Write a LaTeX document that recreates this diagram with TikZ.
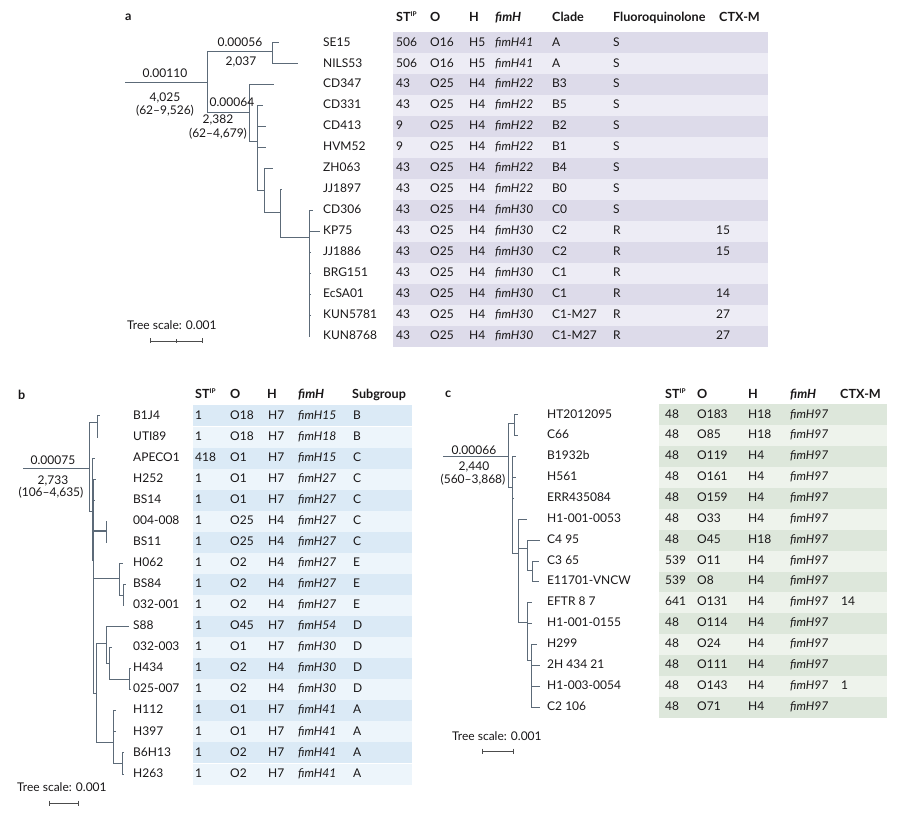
\nonstopmode
\documentclass[tikz,border=0pt]{standalone}
\usepackage{fontspec}
\setmainfont{Lato}
\definecolor{treeline}{RGB}{92,106,120}
\definecolor{txt}{RGB}{25,23,24}
\definecolor{bandAa}{RGB}{221,219,234}
\definecolor{bandAb}{RGB}{237,236,245}
\definecolor{bandBa}{RGB}{219,234,246}
\definecolor{bandBb}{RGB}{237,245,251}
\definecolor{bandCa}{RGB}{221,231,219}
\definecolor{bandCb}{RGB}{238,243,236}

\begin{document}
\begin{tikzpicture}[x=1pt,y=-1pt,font=\fontsize{12}{14}\selectfont,text=txt]

\tikzstyle{cell}=[anchor=west,inner sep=0pt,text height=8.7pt,text depth=2.5pt]
\tikzstyle{head}=[cell,font=\fontsize{12.6}{14}\selectfont\bfseries]
\tikzstyle{num}=[inner sep=0pt,text height=8.7pt,text depth=2.5pt]
\tikzstyle{br}=[draw=treeline,line width=1pt]
\tikzstyle{scalebar}=[draw=black!70,line width=0.9pt]

\useasboundingbox (0,0) rectangle (906,818);

% ---------------- panel a ----------------
\foreach \r in {0,2,...,14} \fill[bandAa] (393,{32.5+20.93*\r}) rectangle (768,{53.5+20.93*\r});
\foreach \r in {1,3,...,13} \fill[bandAb] (393,{32.5+20.93*\r}) rectangle (768,{53.5+20.93*\r});

\node[head] (alabel) at (125,17) {a};
\node[head] (a-h-st) at (396,18) {ST\textsuperscript{\fontsize{6.5}{7}\selectfont IP}};
\node[head] (a-h-o) at (430,18) {O};
\node[head] (a-h-h) at (469,18) {H};
\node[head] (a-h-f) at (495,18) {\textit{fimH}};
\node[head] (a-h-cl) at (552,18) {Clade};
\node[head] (a-h-fq) at (613,18) {Fluoroquinolone};
\node[head] (a-h-ctx) at (719,18) {CTX-M};

\foreach \r/\tipx/\strain/\stval/\oval/\hval/\fval/\clade/\fqval/\ctxval in {1/279/SE15/506/O16/H5/41/A/S/,2/298/NILS53/506/O16/H5/41/A/S/,3/274/CD347/43/O25/H4/22/B3/S/,4/263/CD331/43/O25/H4/22/B5/S/,5/266/CD413/9/O25/H4/22/B2/S/,6/266/HVM52/9/O25/H4/22/B1/S/,7/273/ZH063/43/O25/H4/22/B4/S/,8/282/JJ1897/43/O25/H4/22/B0/S/,9/313/CD306/43/O25/H4/30/C0/S/,10/320/KP75/43/O25/H4/30/C2/R/15,11/311/JJ1886/43/O25/H4/30/C2/R/15,12/311/BRG151/43/O25/H4/30/C1/R/,13/311/EcSA01/43/O25/H4/30/C1/R/14,14/311/KUN5781/43/O25/H4/30/C1-M27/R/27,15/310/KUN8768/43/O25/H4/30/C1-M27/R/27}{
  \pgfmathsetmacro{\yy}{43+20.93*(\r-1)}
  \coordinate (a-tip-\r) at (\tipx,\yy);
  \node[cell] (a-\r) at (323,\yy) {\strain};
  \node[cell] (a-\r-st) at (396,\yy) {\stval};
  \node[cell] (a-\r-o) at (430,\yy) {\oval};
  \node[cell] (a-\r-h) at (469,\yy) {\hval};
  \node[cell] (a-\r-f) at (495,\yy) {\textit{fimH\fval}};
  \node[cell] (a-\r-cl) at (552,\yy) {\clade};
  \node[cell] (a-\r-fq) at (613,\yy) {\fqval};
  \node[cell] (a-\r-ctx) at (716,\yy) {\ctxval};
}

% tree a
\coordinate (a-root) at (125,82.7);
\coordinate (na0) at (207,82.7);
\coordinate (na1) at (272,52);
\coordinate (na2) at (249,113);
\coordinate (na3) at (257,142);
\coordinate (na4) at (264,191);
\coordinate (na5) at (280,213);
\coordinate (na6) at (309,238);
\draw[br] (a-root) -- (na0);
\draw[br] (na0) |- (na1) (na0) |- (na2);
\draw[br] (na1) |- (a-tip-1) (na1) |- (a-tip-2);
\draw[br] (na2) |- (a-tip-3) (na2) |- (na3);
\draw[br] (na3) |- (a-tip-4) (na3) |- (a-tip-5) (na3) |- (a-tip-6) (na3) |- (na4);
\draw[br] (na4) |- (a-tip-7) (na4) |- (na5);
\draw[br] (na5) |- (a-tip-8) (na5) |- (na6);
\foreach \k in {9,...,15} \draw[br] (na6) |- (a-tip-\k);

\node[num] (a-l1) at (165,74) {0.00110};
\node[num] (a-l2) at (165,98) {4,025};
\node[num] (a-l3) at (165,111) {(62--9,526)};
\node[num] (a-l4) at (240,43) {0.00056};
\node[num] (a-l5) at (241,62) {2,037};
\node[num] (a-l6) at (232,103) {0.00064};
\node[num] (a-l7) at (218,120) {2,382};
\node[num] (a-l8) at (218,134) {(62--4,679)};

\node[cell] (a-scale) at (127,326) {Tree scale: 0.001};
\draw[scalebar] (150,341) -- (202,341);
\draw[scalebar] (150,338.5) -- (150,343.5) (176,339) -- (176,343) (202,338.5) -- (202,343.5);

% ---------------- panel b ----------------
\foreach \r in {0,2,...,16} \fill[bandBa] (193,{405.5+21.06*\r}) rectangle (412,{426.5+21.06*\r});
\foreach \r in {1,3,...,17} \fill[bandBb] (193,{405.5+21.06*\r}) rectangle (412,{426.5+21.06*\r});

\node[head] (blabel) at (18,396) {b};
\node[head] (b-h-st) at (195,395) {ST\textsuperscript{\fontsize{6.5}{7}\selectfont IP}};
\node[head] (b-h-o) at (230,395) {O};
\node[head] (b-h-h) at (267,395) {H};
\node[head] (b-h-f) at (298,395) {\textit{fimH}};
\node[head] (b-h-sg) at (352,395) {Subgroup};

\foreach \r/\tipx/\strain/\stval/\oval/\hval/\fval/\subgr in {1/100/B1J4/1/O18/H7/15/B,2/98/UTI89/1/O18/H7/18/B,3/95/APECO1/418/O1/H7/15/C,4/96/H252/1/O1/H7/27/C,5/95/BS14/1/O1/H7/27/C,6/107/004-008/1/O25/H4/27/C,7/107/BS11/1/O25/H4/27/C,8/123/H062/1/O2/H4/27/E,9/126/BS84/1/O2/H4/27/E,10/124/032-001/1/O2/H4/27/E,11/129/S88/1/O45/H7/54/D,12/112/032-003/1/O1/H7/30/D,13/131/H434/1/O2/H4/30/D,14/131/025-007/1/O2/H4/30/D,15/116/H112/1/O1/H7/41/A,16/116/H397/1/O1/H7/41/A,17/124/B6H13/1/O2/H7/41/A,18/124/H263/1/O2/H7/41/A}{
  \pgfmathsetmacro{\yy}{416+21.06*(\r-1)}
  \coordinate (b-tip-\r) at (\tipx,\yy);
  \node[cell] (b-\r) at (133,\yy) {\strain};
  \node[cell] (b-\r-st) at (195,\yy) {\stval};
  \node[cell] (b-\r-o) at (230,\yy) {\oval};
  \node[cell] (b-\r-h) at (268,\yy) {\hval};
  \node[cell] (b-\r-f) at (298,\yy) {\textit{fimH\fval}};
  \node[cell] (b-\r-sg) at (353,\yy) {\subgr};
}

% tree b
\coordinate (b-root) at (23,469);
\coordinate (nb0) at (89,469);
\coordinate (nb1) at (97,423);
\coordinate (nb2) at (92,512);
\coordinate (nb3) at (93,560);
\coordinate (nb4) at (106,531);
\coordinate (nb6) at (119,578);
\coordinate (nb13) at (123,595);
\coordinate (nb7) at (96,693);
\coordinate (nb8) at (106,643);
\coordinate (nb10) at (109,663);
\coordinate (nb11) at (129,679);
\coordinate (nb9) at (113,742);
\coordinate (nb12) at (122,763);
\draw[br] (b-root) -- (nb0);
\draw[br] (nb0) |- (nb1) (nb0) |- (nb2);
\draw[br] (nb1) |- (b-tip-1) (nb1) |- (b-tip-2);
\draw[br] (nb2) |- (b-tip-3) (nb2) |- (nb3);
\draw[br] (nb3) |- (b-tip-4) (nb3) |- (b-tip-5) (nb3) |- (nb4) (nb3) |- (nb6) (nb3) |- (nb7);
\draw[br] (nb4) |- (b-tip-6) (nb4) |- (b-tip-7);
\draw[br] (nb6) |- (b-tip-8) (nb6) |- (nb13);
\draw[br] (nb13) |- (b-tip-9) (nb13) |- (b-tip-10);
\draw[br] (nb7) |- (nb8) (nb7) |- (nb9);
\draw[br] (nb8) |- (b-tip-11) (nb8) |- (nb10);
\draw[br] (nb10) |- (b-tip-12) (nb10) |- (nb11);
\draw[br] (nb11) |- (b-tip-13) (nb11) |- (b-tip-14);
\draw[br] (nb9) |- (b-tip-15) (nb9) |- (b-tip-16) (nb9) |- (nb12);
\draw[br] (nb12) |- (b-tip-17) (nb12) |- (b-tip-18);

\node[num] (b-l1) at (53,461) {0.00075};
\node[num] (b-l2) at (53,481) {2,733};
\node[num] (b-l3) at (51,493) {(106--4,635)};

\node[cell] (b-scale) at (17,788) {Tree scale: 0.001};
\draw[scalebar] (49,803) -- (78,803);
\draw[scalebar] (49,800.5) -- (49,805.5) (78,800.5) -- (78,805.5);

% ---------------- panel c ----------------
\foreach \r in {0,2,...,14} \fill[bandCa] (659,{404.5+20.86*\r}) rectangle (887,{425.5+20.86*\r});
\foreach \r in {1,3,...,13} \fill[bandCb] (659,{404.5+20.86*\r}) rectangle (887,{425.5+20.86*\r});

\node[head] (clabel) at (445,394) {c};
\node[head] (c-h-st) at (665,395) {ST\textsuperscript{\fontsize{6.5}{7}\selectfont IP}};
\node[head] (c-h-o) at (697,395) {O};
\node[head] (c-h-h) at (748,395) {H};
\node[head] (c-h-f) at (790,395) {\textit{fimH}};
\node[head] (c-h-ctx) at (840,395) {CTX-M};

\foreach \r/\tipx/\strain/\stval/\oval/\hval/\ctxval in {1/518/HT2012095/48/O183/H18/,2/518/C66/48/O85/H18/,3/516/B1932b/48/O119/H4/,4/516/H561/48/O161/H4/,5/514/ERR435084/48/O159/H4/,6/527/H1-001-0053/48/O33/H4/,7/540/C4 95/48/O45/H18/,8/539/C3 65/539/O11/H4/,9/539/E11701-VNCW/539/O8/H4/,10/532/EFTR 8 7/641/O131/H4/14,11/532/H1-001-0155/48/O114/H4/,12/537/H299/48/O24/H4/,13/540/2H 434 21/48/O111/H4/,14/540/H1-003-0054/48/O143/H4/1,15/540/C2 106/48/O71/H4/}{
  \pgfmathsetmacro{\yy}{415+20.86*(\r-1)}
  \coordinate (c-tip-\r) at (\tipx,\yy);
  \node[cell] (c-\r) at (547,\yy) {\strain};
  \node[cell] (c-\r-st) at (665,\yy) {\stval};
  \node[cell] (c-\r-o) at (697,\yy) {\oval};
  \node[cell] (c-\r-h) at (748,\yy) {\hval};
  \node[cell] (c-\r-f) at (790,\yy) {\textit{fimH97}};
  \node[cell] (c-\r-ctx) at (841,\yy) {\ctxval};
}

% tree c
\coordinate (c-root) at (443,457);
\coordinate (nc0) at (508,457);
\coordinate (nc1) at (514,424);
\coordinate (nc2) at (512,488);
\coordinate (nc3) at (518,553);
\coordinate (nc4) at (527,548);
\coordinate (nc5) at (532,570);
\coordinate (nc6) at (527,622);
\coordinate (nc7) at (531,660);
\draw[br] (c-root) -- (nc0);
\draw[br] (nc0) |- (nc1) (nc0) |- (nc2);
\draw[br] (nc1) |- (c-tip-1) (nc1) |- (c-tip-2);
\draw[br] (nc2) |- (c-tip-3) (nc2) |- (c-tip-4) (nc2) |- (c-tip-5) (nc2) |- (nc3);
\draw[br] (nc3) |- (c-tip-6) (nc3) |- (nc4) (nc3) |- (nc6);
\draw[br] (nc4) |- (c-tip-7) (nc4) |- (nc5);
\draw[br] (nc5) |- (c-tip-8) (nc5) |- (c-tip-9);
\draw[br] (nc6) |- (c-tip-10) (nc6) |- (c-tip-11) (nc6) |- (nc7);
\foreach \k in {12,...,15} \draw[br] (nc7) |- (c-tip-\k);

\node[num] (c-l1) at (474,451) {0.00066};
\node[num] (c-l2) at (474,467) {2,440};
\node[num] (c-l3) at (473,480) {(560--3,868)};

\node[cell] (c-scale) at (452,737) {Tree scale: 0.001};
\draw[scalebar] (482,751) -- (513,751);
\draw[scalebar] (482,748.5) -- (482,753.5) (513,748.5) -- (513,753.5);

\end{tikzpicture}
\end{document}
